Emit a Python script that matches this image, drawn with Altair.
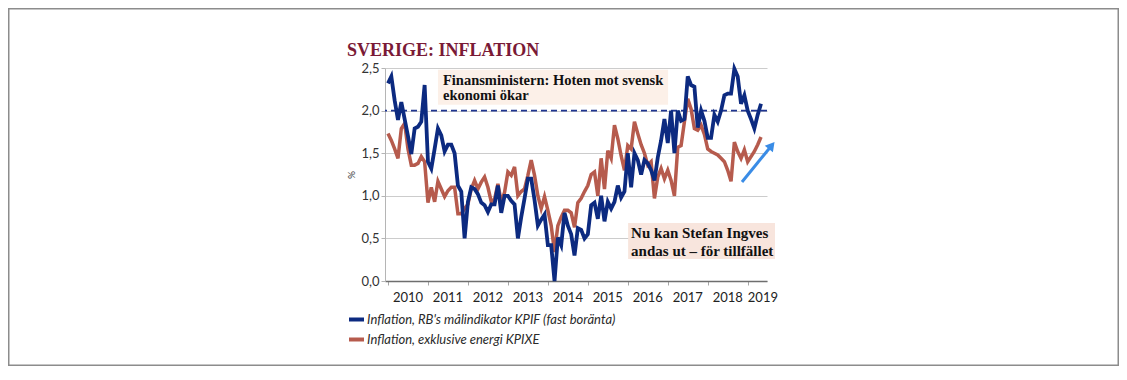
import altair as alt
import pandas as pd

# ---------------- data ----------------
BLUE_NAME = "Inflation, RB's målindikator KPIF (fast boränta)"
RED_NAME = "Inflation, exklusive energi KPIXE"

# monthly values, Jan 2010 -> May 2019
kpif = [2.32, 2.40, 2.12, 1.89, 2.10, 1.90, 1.70, 1.49, 1.79, 1.81, 1.87, 2.30,
        1.40, 1.32, 1.55, 1.79, 1.71, 1.52, 1.60, 1.60, 1.50, 1.12, 1.05, 0.50,
        0.93, 1.10, 1.08, 1.02, 0.92, 0.89, 0.81, 0.90, 0.90, 1.12, 0.80, 1.00,
        1.00, 0.94, 0.90, 0.50, 0.75, 0.97, 1.20, 1.20, 0.95, 0.65, 0.72, 0.78,
        0.42, 0.42, 0.00, 0.51, 0.42, 0.80, 0.65, 0.55, 0.30, 0.62, 0.60, 0.50,
        0.55, 0.89, 0.92, 0.73, 1.00, 0.70, 0.93, 0.85, 0.93, 1.12, 0.98, 1.05,
        1.50, 1.10, 1.50, 1.42, 1.25, 1.42, 1.38, 1.30, 1.18, 1.45, 1.65, 1.90,
        1.62, 2.00, 1.50, 2.00, 1.88, 1.90, 2.40, 2.30, 2.28, 1.80, 2.00, 1.88,
        1.68, 1.68, 1.95, 1.87, 2.00, 2.18, 2.20, 2.20, 2.49, 2.40, 2.08, 2.18,
        2.00, 1.90, 1.79, 1.95, 2.08]
kpixe = [1.73, 1.65, 1.55, 1.44, 1.79, 1.85, 1.55, 1.36, 1.36, 1.38, 1.46, 1.40,
         0.92, 1.10, 0.93, 1.17, 1.08, 0.99, 1.06, 1.10, 1.10, 0.79, 0.79, 0.85,
         0.90, 1.08, 1.18, 1.08, 1.16, 1.22, 1.10, 0.93, 0.96, 1.14, 0.93, 1.04,
         1.28, 1.24, 1.34, 1.00, 1.05, 1.08, 1.24, 1.42, 1.24, 1.00, 0.85, 0.99,
         0.83, 0.65, 0.34, 0.65, 0.75, 0.83, 0.83, 0.80, 0.63, 0.92, 0.97, 1.05,
         1.12, 1.25, 1.28, 1.00, 1.44, 1.08, 1.53, 1.44, 1.83, 1.67, 1.47, 1.30,
         1.59, 1.55, 1.87, 1.73, 1.60, 1.50, 1.36, 1.40, 0.97, 1.22, 1.32, 1.20,
         1.30, 1.18, 1.00, 1.57, 1.59, 1.87, 2.14, 2.02, 1.79, 1.77, 1.83, 1.72,
         1.55, 1.52, 1.50, 1.48, 1.44, 1.40, 1.30, 1.17, 1.63, 1.52, 1.44, 1.54,
         1.40, 1.46, 1.52, 1.60, 1.69]

year_labels = ["2010", "2011", "2012", "2013", "2014", "2015", "2016", "2017", "2018", "2019"]
year_label_pos = [2010.5, 2011.5, 2012.5, 2013.5, 2014.5, 2015.5, 2016.5, 2017.5, 2018.5, 2019.38]
year_ticks = [2010, 2011, 2012, 2013, 2014, 2015, 2016, 2017, 2018, 2019]
y_ticks = [0.0, 0.5, 1.0, 1.5, 2.0, 2.5]
target = 2.0

ann1_lines = ["Finansministern: Hoten mot svensk", "ekonomi ökar"]
ann2_lines = ["Nu kan Stefan Ingves", "andas ut – för tillfället"]

# ---------------- layout constants ----------------
W, H = 382, 213
PAD_L, PAD_T, PAD_R = 377, 60, 352
TOTAL_H = 358
PAD_B = TOTAL_H - PAD_T - H

BLUE = "#0c2a80"
RED = "#b65b4d"
TITLE_C = "#7a1a36"
ARROW_C = "#3a8ce6"

n = len(kpif)
t = [2010 + i / 12 for i in range(n)]
df_blue = pd.DataFrame({"t": t, "v": kpif, "s": BLUE_NAME})
df_red = pd.DataFrame({"t": t, "v": kpixe, "s": RED_NAME})

xs = alt.Scale(domain=[2009.925, 2019.483], nice=False, zero=False)
ys = alt.Scale(domain=[0, 2.5], nice=False, zero=False)
cs = alt.Scale(domain=[BLUE_NAME, RED_NAME], range=[BLUE, RED])

x_axis = alt.Axis(values=year_ticks, labels=False, ticks=True, tickSize=4,
                  tickColor="#a8a8a8", domainColor="#6e6e6e", domainWidth=1.5,
                  grid=False, title=None)
y_axis = alt.Axis(values=y_ticks,
                  labelExpr="replace(format(datum.value, '.1f'), '.', ',')",
                  title="%", titleFont="Lato", titleFontSize=10,
                  titleFontWeight="normal", titleColor="#333333", titlePadding=4,
                  grid=True, gridColor="#cccccc", gridWidth=1,
                  domainColor="#b5b5b5", tickColor="#b5b5b5", tickSize=4,
                  labelFont="Lato", labelFontSize=13, labelColor="#333333",
                  labelPadding=2)

legend = alt.Legend(orient="none", legendX=-38, legendY=242, title=None,
                    symbolType="stroke", symbolStrokeWidth=4, symbolSize=225,
                    labelFont="Lato", labelFontStyle="italic", labelFontSize=13,
                    labelColor="#2a2a2a", labelOffset=1, rowPadding=2, padding=0,
                    labelLimit=400)


def X(field):
    return alt.X(field, scale=xs, axis=x_axis, title=None)


def Y(field):
    return alt.Y(field, scale=ys, axis=y_axis, title="%")


one = pd.DataFrame({"a": [0]})

# outer frame
frame = alt.Chart(one).mark_rect(fillOpacity=0, stroke="#8c8c8c", strokeWidth=1.5).encode(
    x=alt.value(-PAD_L + 0.75), x2=alt.value(W + PAD_R - 0.75),
    y=alt.value(-PAD_T + 0.75), y2=alt.value(H + PAD_B - 0.75))

# annotation boxes (data coordinates)
box1 = pd.DataFrame({"x1": [2011.25], "x2": [2017.008], "y1": [2.07], "y2": [2.48]})
box2 = pd.DataFrame({"x1": [2016.008], "x2": [2019.683], "y1": [0.258], "y2": [0.681]})
box1_layer = alt.Chart(box1).mark_rect(color="#fcf0e8").encode(
    x=X("x1:Q"), x2="x2:Q", y=Y("y1:Q"), y2="y2:Q")
box2_layer = alt.Chart(box2).mark_rect(color="#f8e5dd").encode(
    x=X("x1:Q"), x2="x2:Q", y=Y("y1:Q"), y2="y2:Q")

rule = alt.Chart(pd.DataFrame({"v": [target]})).mark_rule(
    color="#1f3590", strokeWidth=1.6, strokeDash=[6, 4]).encode(y=Y("v:Q"))

red_line = alt.Chart(df_red).mark_line(strokeWidth=3.5).encode(
    x=X("t:Q"), y=Y("v:Q"),
    color=alt.Color("s:N", scale=cs, legend=legend))
blue_line = alt.Chart(df_blue).mark_line(strokeWidth=3.8).encode(
    x=X("t:Q"), y=Y("v:Q"),
    color=alt.Color("s:N", scale=cs, legend=legend))

arrow_df = pd.DataFrame({"t": [2018.857, 2019.60], "v": [1.162, 1.59]})
arrow_shaft = alt.Chart(arrow_df).mark_line(color=ARROW_C, strokeWidth=3).encode(
    x=X("t:Q"), y=Y("v:Q"))
arrow_head = alt.Chart(arrow_df.tail(1)).mark_point(
    shape="triangle-up", filled=True, color=ARROW_C, opacity=1, size=110, angle=39).encode(
    x=X("t:Q"), y=Y("v:Q"))

ann1 = pd.DataFrame({"t": [2011.375, 2011.375], "v": [2.30, 2.13], "txt": ann1_lines})
ann1_layer = alt.Chart(ann1).mark_text(align="left", baseline="alphabetic",
                                        font="Liberation Serif", fontWeight="bold",
                                        fontSize=14.5, color="#111111").encode(
    x=X("t:Q"), y=Y("v:Q"), text="txt:N")

ann2 = pd.DataFrame({"t": [2016.083, 2016.083], "v": [0.505, 0.293], "txt": ann2_lines})
ann2_layer = alt.Chart(ann2).mark_text(align="left", baseline="alphabetic",
                                        font="Liberation Serif", fontWeight="bold",
                                        fontSize=15, color="#111111").encode(
    x=X("t:Q"), y=Y("v:Q"), text="txt:N")

yl = pd.DataFrame({"t": year_label_pos, "lab": year_labels})
year_layer = alt.Chart(yl).mark_text(align="center", baseline="alphabetic",
                                      font="Lato", fontSize=13, color="#222222").encode(
    x=X("t:Q"), y=alt.value(H + 21), text="lab:N")

title_layer = alt.Chart(pd.DataFrame({"txt": ["SVERIGE: INFLATION"]})).mark_text(
    align="left", baseline="alphabetic", font="Liberation Serif", fontWeight="bold",
    fontSize=18, color=TITLE_C).encode(
    x=alt.value(-38), y=alt.value(-12), text="txt:N")

chart = alt.layer(
    frame, box1_layer, box2_layer, rule, red_line, blue_line, arrow_shaft, arrow_head,
    ann1_layer, ann2_layer, year_layer, title_layer
).properties(
    width=W, height=H,
    autosize=alt.AutoSizeParams(type="none"),
    padding={"left": PAD_L, "top": PAD_T, "right": PAD_R, "bottom": PAD_B},
    background="white",
).configure_view(strokeWidth=0)

chart.save("out.html", embed_options={"renderer": "svg", "actions": False})
